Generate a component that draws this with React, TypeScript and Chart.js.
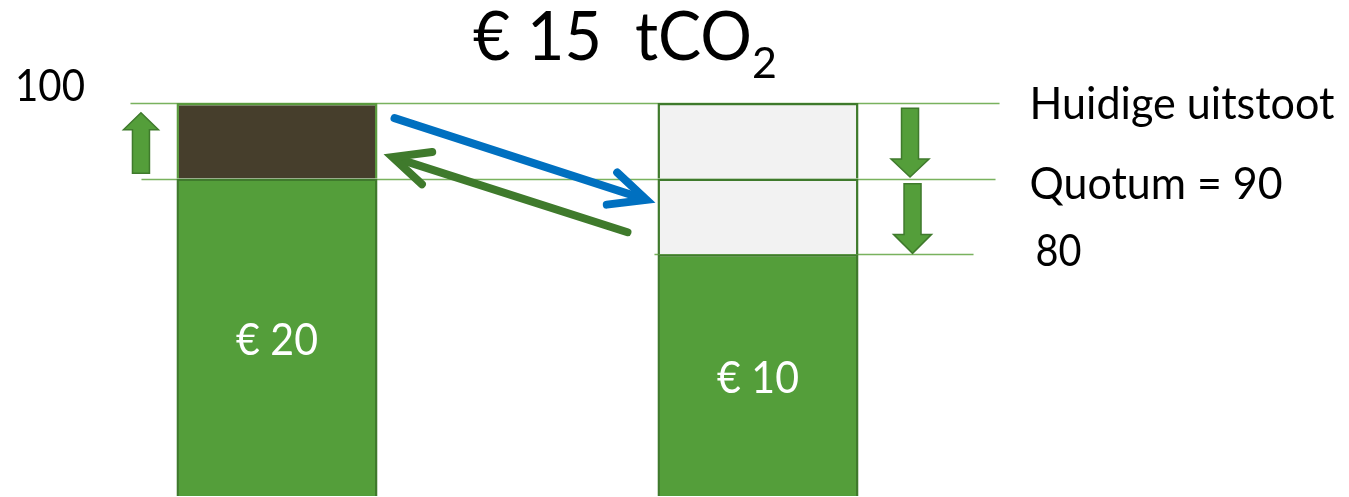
import React, { useEffect, useRef } from "react";
import { Chart, registerables } from "chart.js";

Chart.register(...registerables);

// ---- data ----
const categories = ["Bedrijf A", "Bedrijf B"];
const basisUitstoot = [90, 80];
const extraUitstoot = [10, null];
const reductieTotQuotum = [null, 10];
const reductieOnderQuotum = [null, 10];
const kostenLabels = ["€ 20", "€ 10"];
const niveauWaarden = [100, 90, 80];
const niveauLabels = ["Huidige uitstoot", "Quotum = 90", "80"];
const titelTekst = "€ 15  tCO";
const titelSub = "2";
const asLabel = "100";
const yMin = 48;
const yMax = 100;

// ---- styles ----
const FONT = "Lato, 'Open Sans', sans-serif";
const GREEN = "#549E3A";
const GREEN_DARK = "#3F7A2C";
const BROWN = "#463E2C";
const GRAY = "#F2F2F2";
const BLUE = "#0070C0";
const LINE = "rgba(98,165,66,0.85)";

function txt(ctx: CanvasRenderingContext2D, s: string, x: number, y: number, size: number, color: string, align: CanvasTextAlign, maxW?: number) {
  ctx.save();
  ctx.font = `${size}px ${FONT}`;
  ctx.fillStyle = color;
  ctx.textAlign = align;
  ctx.textBaseline = "alphabetic";
  if (maxW) ctx.fillText(s, x, y, maxW);
  else ctx.fillText(s, x, y);
  ctx.restore();
}

function lineArrow(ctx: CanvasRenderingContext2D, x1: number, y1: number, x2: number, y2: number, color: string) {
  const ang = Math.atan2(y1 - y2, x1 - x2);
  const len = 40;
  const spread = (25 * Math.PI) / 180;
  ctx.save();
  ctx.strokeStyle = color;
  ctx.lineWidth = 8;
  ctx.lineCap = "round";
  ctx.lineJoin = "miter";
  ctx.beginPath();
  ctx.moveTo(x1, y1);
  ctx.lineTo(x2 + Math.cos(ang) * 6, y2 + Math.sin(ang) * 6);
  ctx.stroke();
  ctx.beginPath();
  ctx.moveTo(x2 + Math.cos(ang + spread) * len, y2 + Math.sin(ang + spread) * len);
  ctx.lineTo(x2, y2);
  ctx.lineTo(x2 + Math.cos(ang - spread) * len, y2 + Math.sin(ang - spread) * len);
  ctx.stroke();
  ctx.restore();
}

function blockArrow(ctx: CanvasRenderingContext2D, cx: number, yStart: number, yTip: number, headW: number, shaftW: number, headH: number) {
  const dir = yTip > yStart ? 1 : -1;
  const yHead = yTip - dir * headH;
  ctx.save();
  ctx.fillStyle = GREEN;
  ctx.strokeStyle = GREEN_DARK;
  ctx.lineWidth = 1.5;
  ctx.beginPath();
  ctx.moveTo(cx - shaftW / 2, yStart);
  ctx.lineTo(cx - shaftW / 2, yHead);
  ctx.lineTo(cx - headW / 2, yHead);
  ctx.lineTo(cx, yTip);
  ctx.lineTo(cx + headW / 2, yHead);
  ctx.lineTo(cx + shaftW / 2, yHead);
  ctx.lineTo(cx + shaftW / 2, yStart);
  ctx.closePath();
  ctx.fill();
  ctx.stroke();
  ctx.restore();
}

function barEdges(chart: any) {
  const m = chart.getDatasetMeta(0);
  const a = m.data[0] as any;
  const b = m.data[1] as any;
  return {
    aL: a.x - a.width / 2, aR: a.x + a.width / 2, aX: a.x,
    bL: b.x - b.width / 2, bR: b.x + b.width / 2, bX: b.x,
  };
}

const overlayPlugin = {
  id: "overlay",
  beforeDatasetsDraw(chart: any) {
    const ctx = chart.ctx as CanvasRenderingContext2D;
    const y = chart.scales.y;
    const e = barEdges(chart);
    const spans = [
      [e.aL - 46, e.bR + 141],
      [e.aL - 35, e.bR + 137],
      [e.bL - 3, e.bR + 115],
    ];
    ctx.save();
    ctx.strokeStyle = LINE;
    ctx.lineWidth = 1.5;
    niveauWaarden.forEach((v, i) => {
      const py = Math.round(y.getPixelForValue(v)) + 0.5;
      ctx.beginPath();
      ctx.moveTo(spans[i][0], py);
      ctx.lineTo(spans[i][1], py);
      ctx.stroke();
    });
    ctx.restore();
  },
  afterDatasetsDraw(chart: any) {
    const ctx = chart.ctx as CanvasRenderingContext2D;
    const y = chart.scales.y;
    const e = barEdges(chart);
    const py = (v: number) => y.getPixelForValue(v);

    // trade arrows
    lineArrow(ctx, e.aR + 17, py(98.0), e.bL - 11, py(87.2), BLUE);
    lineArrow(ctx, e.bL - 30, py(82.9), e.aR + 15, py(92.85), GREEN_DARK);

    // block arrows
    blockArrow(ctx, e.aL - 35.5, py(90.7), py(98.7), 35, 17, 17);
    blockArrow(ctx, e.bR + 51.5, py(99.3), py(90.2), 38, 17, 18);
    blockArrow(ctx, e.bR + 54, py(89.3), py(80.1), 38, 17, 19);

    // bar cost labels (centered in visible green part)
    const bottom = chart.chartArea.bottom;
    [e.aX, e.bX].forEach((x, i) => {
      const mid = (py(basisUitstoot[i]) + bottom) / 2;
      txt(ctx, kostenLabels[i], x, mid + 18, 44, "#FFFFFF", "center", 82);
    });

    // level labels on the right
    const offs = [16, 20, 12];
    const lx = [e.bR + 171, e.bR + 171, e.bR + 177];
    const widths = [305, 253, 46];
    niveauLabels.forEach((s, i) => {
      txt(ctx, s, lx[i], py(niveauWaarden[i]) + offs[i], 44, "#000000", "left", widths[i]);
    });

    // axis label 100
    txt(ctx, asLabel, 15, py(100) - 2, 44, "#000000", "left", 70);

    // title with subscript
    ctx.save();
    ctx.font = `67px ${FONT}`;
    const w = Math.min(ctx.measureText(titelTekst).width, 279);
    ctx.restore();
    txt(ctx, titelTekst, 473, 60, 67, "#000000", "left", 279);
    txt(ctx, titelSub, 473 + w, 78, 43, "#000000", "left");
  },
};

export default function App() {
  const ref = useRef<HTMLCanvasElement | null>(null);
  useEffect(() => {
    if (!ref.current) return;
    const ds = (label: string, data: (number | null)[], bg: string, border: string) => ({
      label,
      data,
      backgroundColor: bg,
      borderColor: border,
      borderWidth: 2.5,
      borderSkipped: "start" as const,
      barPercentage: 0.418,
      categoryPercentage: 1,
      stack: "s",
    });
    const chart = new Chart(ref.current, {
      type: "bar",
      data: {
        labels: categories,
        datasets: [
          ds("Uitstoot", basisUitstoot, GREEN, GREEN_DARK),
          ds("Reductie tot quotum", reductieTotQuotum, GRAY, GREEN_DARK),
          ds("Reductie", reductieOnderQuotum, GRAY, GREEN_DARK),
          ds("Extra uitstoot", extraUitstoot, BROWN, "#5A9A3E"),
        ] as any,
      },
      options: {
        responsive: false,
        animation: false,
        layout: { padding: { top: 103, bottom: 1, left: 36.5, right: 350.5 } },
        plugins: { legend: { display: false }, tooltip: { enabled: false }, title: { display: false } },
        scales: {
          x: { display: false, stacked: true, grid: { display: false } },
          y: { display: false, stacked: true, min: yMin, max: yMax },
        },
      },
      plugins: [overlayPlugin],
    });
    return () => chart.destroy();
  }, []);
  return (
    <div style={{ position: "fixed", left: 0, top: 0, width: 1349, height: 497, background: "#fff" }}>
      <canvas ref={ref} width={1349} height={497} style={{ display: "block" }} />
    </div>
  );
}
